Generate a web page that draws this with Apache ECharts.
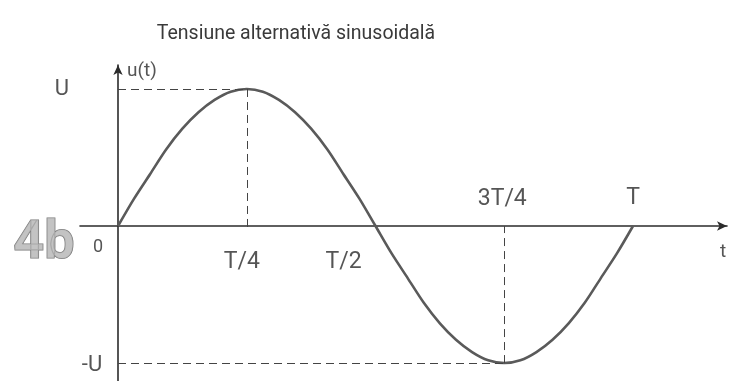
<!DOCTYPE html>
<html>
<head>
<meta charset="utf-8">
<script src="https://cdn.jsdelivr.net/npm/echarts@6/dist/echarts.min.js"></script>
<style>
  html, body { margin: 0; padding: 0; background: #fff; }
  #chart { width: 729px; height: 381px; }
</style>
</head>
<body>
<div id="chart"></div>
<script>
// 一个周期的正弦电压, t 以 T 为单位, u 以 U 为单位
const tValues = [0, 0.03125, 0.0625, 0.09375, 0.125, 0.15625, 0.1875, 0.21875, 0.25,
  0.28125, 0.3125, 0.34375, 0.375, 0.40625, 0.4375, 0.46875, 0.5,
  0.53125, 0.5625, 0.59375, 0.625, 0.65625, 0.6875, 0.71875, 0.75,
  0.78125, 0.8125, 0.84375, 0.875, 0.90625, 0.9375, 0.96875, 1]
const uValues = [0, 0.2, 0.38, 0.56, 0.71, 0.83, 0.92, 0.98, 1,
  0.98, 0.92, 0.83, 0.71, 0.56, 0.38, 0.2, 0,
  -0.2, -0.38, -0.56, -0.71, -0.83, -0.92, -0.98, -1,
  -0.98, -0.92, -0.83, -0.71, -0.56, -0.38, -0.2, 0]

// 横轴刻度文字
const tickPos = [0, 0.25, 0.5, 0.75, 1]
const tickText = ['0', 'T/4', 'T/2', '3T/4', 'T']
// 纵轴刻度文字
const levelPos = [1, -1]
const levelText = ['U', '-U']

const titleText = 'Tensiune alternativă sinusoidală'
const yName = 'u(t)'
const xName = 't'
const figName = '4b'

const ink = '#2b2b2b'
const font = 'Roboto'

let myChart = echarts.init(document.getElementById('chart'))

// 标签位置偏移 (像素)
const tickOffsets = [[-20, 21], [-5, 36], [-32, 36], [-2, -27], [0, -28]]
const levelOffsets = [[-56, 1], [-26, 2]]

let labelData = tickPos.map((t, i) => ({
  value: [t, 0],
  label: { formatter: tickText[i], offset: tickOffsets[i], fontSize: i === 0 ? 18 : 23 }
}))
levelPos.forEach((u, i) => {
  labelData.push({
    value: [0, u],
    label: { formatter: levelText[i], offset: levelOffsets[i], fontSize: 22 }
  })
})
labelData.push({ value: [0, 1], label: { formatter: yName, offset: [24, -18], fontSize: 19 } })
labelData.push({ value: [1.1825, 0], label: { formatter: xName, offset: [-4, 26], fontSize: 19 } })
labelData.push({
  value: [0, 0],
  label: {
    formatter: figName, offset: [-74, 18], fontSize: 54, fontWeight: 'bold',
    color: '#b4b4b4', textBorderColor: '#555', textBorderWidth: 1.2
  }
})

let option = {
  backgroundColor: '#fff',
  animation: false,
  title: {
    text: titleText,
    left: 291,
    textAlign: 'center',
    top: 19,
    textStyle: { fontFamily: font, fontSize: 19.5, fontWeight: 'normal', color: '#3a3a3a' }
  },
  grid: { left: 80, right: 2, top: 65, bottom: 0 },
  xAxis: {
    type: 'value',
    min: -0.0738,
    max: 1.1825,
    splitLine: { show: false },
    axisTick: { show: false },
    axisLabel: { show: false },
    axisLine: {
      onZero: true,
      lineStyle: { color: ink, width: 1.6 },
      symbol: ['none', 'arrow'],
      symbolSize: [7, 10]
    }
  },
  yAxis: {
    type: 'value',
    min: -1.131,
    max: 1.175,
    splitLine: { show: false },
    axisTick: { show: false },
    axisLabel: { show: false },
    axisLine: {
      onZero: true,
      lineStyle: { color: ink, width: 1.6 },
      symbol: ['none', 'arrow'],
      symbolSize: [7, 10]
    }
  },
  series: [
    {
      type: 'line',
      data: tValues.map((t, i) => [t, uValues[i]]),
      smooth: 0.3,
      showSymbol: false,
      lineStyle: { color: '#5a5a5a', width: 2.6 },
      markLine: {
        silent: true,
        symbol: 'none',
        label: { show: false },
        lineStyle: { color: '#444', width: 1, type: [8, 5] },
        data: [
          [{ coord: [0, 1] }, { coord: [0.25, 1] }],
          [{ coord: [0.25, 1] }, { coord: [0.25, -0.03] }],
          [{ coord: [0, -1] }, { coord: [0.75, -1] }],
          [{ coord: [0.75, -1] }, { coord: [0.75, 0] }]
        ]
      }
    },
    {
      // 文字标签
      type: 'scatter',
      symbolSize: 0,
      silent: true,
      z: 5,
      label: {
        show: true,
        position: 'inside',
        fontFamily: font,
        color: ink
      },
      data: labelData
    }
  ]
}

myChart.setOption(option)
window.addEventListener('resize', () => { myChart.resize() })
</script>
</body>
</html>
